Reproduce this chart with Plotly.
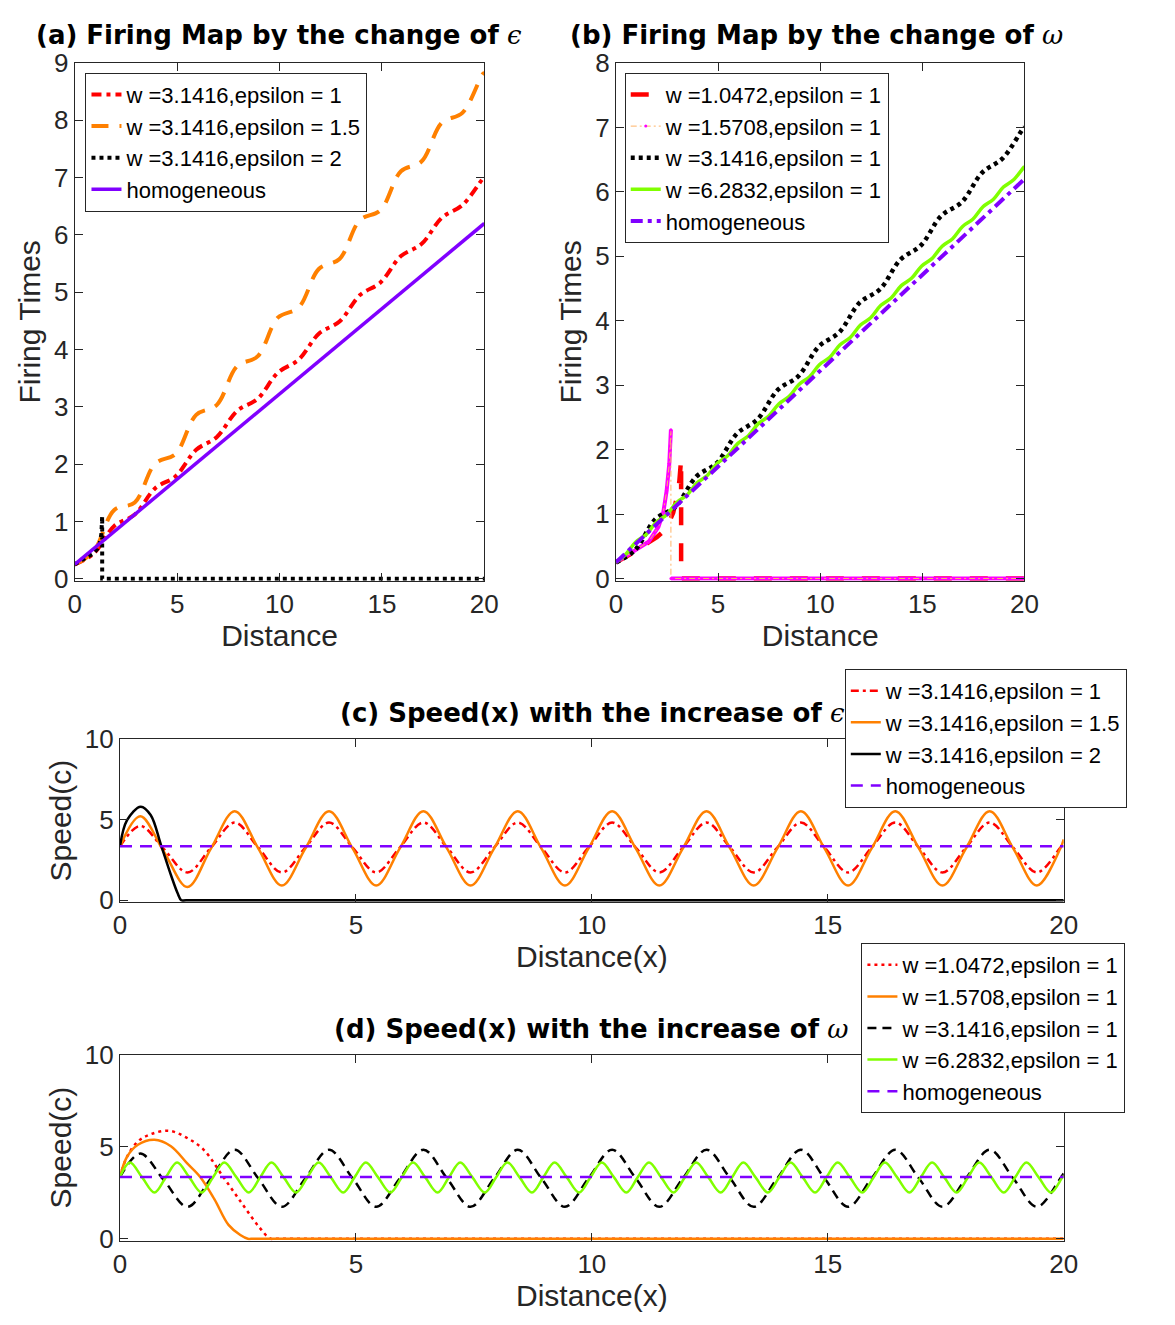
import plotly.graph_objects as go

# ---------------- data ----------------
# firing maps, panel (a) and (b)
firing_x = [0, 0.93, 1.93, 2.93, 3.93, 4.93, 5.93, 6.93, 7.93, 8.93, 9.93, 10.93,
            11.93, 12.93, 13.93, 14.93, 15.93, 16.93, 17.93, 18.93, 19.93, 20]
firing_w314_e1 = [0.25, 0.44, 0.92, 1.12, 1.58, 1.79, 2.25, 2.47, 2.93, 3.14, 3.60, 3.82,
                  4.28, 4.49, 4.95, 5.17, 5.63, 5.84, 6.30, 6.52, 6.98, 7.00]
firing_w314_e15 = [0.25, 0.48, 1.20, 1.33, 2.01, 2.18, 2.86, 3.03, 3.71, 3.88, 4.56, 4.73,
                   5.41, 5.58, 6.26, 6.43, 7.11, 7.28, 7.96, 8.13, 8.81, 8.82]
firing_e2_x = [0, 0.3, 0.6, 0.9, 1.1, 1.22, 1.3, 1.34, 1.34, 20]
firing_e2_y = [0.25, 0.31, 0.37, 0.44, 0.52, 0.62, 0.78, 1.09, 0, 0]
homog_x = [0, 20]
homog_firing = [0.25, 6.2]
firing_w105_x = [0, 0.5, 1.0, 1.6, 2.0, 2.32, 2.6, 2.8, 2.96, 3.1, 3.19, 3.19, 20]
firing_w105_y = [0.25, 0.34, 0.43, 0.56, 0.64, 0.73, 0.87, 1.02, 1.23, 1.5, 1.85, 0, 0]
firing_w157_x = [0, 0.5, 1.12, 1.6, 2.08, 2.32, 2.48, 2.61, 2.69, 2.69, 20]
firing_w157_y = [0.25, 0.35, 0.47, 0.57, 0.80, 1.03, 1.36, 1.78, 2.31, 0, 0]
firing_w628_x = [0, 0.47, 0.97, 1.47, 1.97, 2.47, 2.97, 3.47, 3.97, 4.47, 4.97, 5.47, 5.97,
                 6.47, 6.97, 7.47, 7.97, 8.47, 8.97, 9.47, 9.97, 10.47, 10.97, 11.47, 11.97,
                 12.47, 12.97, 13.47, 13.97, 14.47, 14.97, 15.47, 15.97, 16.47, 16.97,
                 17.47, 17.97, 18.47, 18.97, 19.47, 19.97, 20]
firing_w628_y = [0.25, 0.374, 0.567, 0.680, 0.873, 0.986, 1.179, 1.292, 1.485, 1.598, 1.791,
                 1.904, 2.097, 2.210, 2.403, 2.516, 2.709, 2.822, 3.015, 3.128, 3.321,
                 3.434, 3.627, 3.740, 3.933, 4.046, 4.239, 4.352, 4.545, 4.658, 4.851,
                 4.964, 5.157, 5.270, 5.463, 5.576, 5.769, 5.882, 6.075, 6.188, 6.381, 6.39]

# speed profiles, panel (c) and (d)
speed_x_pi = [0, 0.43, 0.93, 1.43, 1.93, 2.43, 2.93, 3.43, 3.93, 4.43, 4.93, 5.43, 5.93,
              6.43, 6.93, 7.43, 7.93, 8.43, 8.93, 9.43, 9.93, 10.43, 10.93, 11.43, 11.93,
              12.43, 12.93, 13.43, 13.93, 14.43, 14.93, 15.43, 15.93, 16.43, 16.93, 17.43,
              17.93, 18.43, 18.93, 19.43, 19.93, 20]
speed_w314_e1 = [3.35, 4.62, 3.18, 1.73,
                 3.28, 4.83, 3.28, 1.73, 3.28, 4.83, 3.28, 1.73, 3.28, 4.83, 3.28, 1.73,
                 3.28, 4.83, 3.28, 1.73, 3.28, 4.83, 3.28, 1.73, 3.28, 4.83, 3.28, 1.73,
                 3.28, 4.83, 3.28, 1.73, 3.28, 4.83, 3.28, 1.73, 3.28, 4.83, 3.28, 1.73,
                 3.28, 3.55]
speed_w314_e15 = [3.35, 5.22, 3.02, 0.82,
                  3.23, 5.54, 3.23, 0.92, 3.23, 5.54, 3.23, 0.92, 3.23, 5.54, 3.23, 0.92,
                  3.23, 5.54, 3.23, 0.92, 3.23, 5.54, 3.23, 0.92, 3.23, 5.54, 3.23, 0.92,
                  3.23, 5.54, 3.23, 0.92, 3.23, 5.54, 3.23, 0.92, 3.23, 5.54, 3.23, 0.92,
                  3.23, 3.78]
speed_e2_x = [0, 0.15, 0.44, 0.65, 0.87, 1.08, 1.22, 1.3, 1.4, 20]
speed_e2_y = [3.35, 4.98, 5.82, 5.3, 3.43, 1.57, 0.45, 0, 0, 0]
homog_speed = [3.35, 3.35]
speed_w105_x = [0, 0.15, 0.38, 0.66, 1.04, 1.4, 1.77, 2.19, 2.6, 2.95, 3.19, 3.35, 20]
speed_w105_y = [3.35, 4.45, 5.28, 5.68, 5.86, 5.5, 4.84, 3.35, 1.86, 0.63, 0, 0, 0]
speed_w157_x = [0, 0.15, 0.38, 0.73, 1.08, 1.42, 1.7, 2.0, 2.3, 2.55, 2.71, 2.85, 20]
speed_w157_y = [3.35, 4.45, 5.1, 5.37, 5.02, 4.1, 3.35, 2.15, 0.75, 0.2, 0, 0, 0]
speed_x_2pi = [0,
               0.21, 0.47, 0.73, 0.97, 1.21, 1.47, 1.73, 1.97, 2.21, 2.47, 2.73, 2.97,
               3.21, 3.47, 3.73, 3.97, 4.21, 4.47, 4.73, 4.97, 5.21, 5.47, 5.73, 5.97,
               6.21, 6.47, 6.73, 6.97, 7.21, 7.47, 7.73, 7.97, 8.21, 8.47, 8.73, 8.97,
               9.21, 9.47, 9.73, 9.97, 10.21, 10.47, 10.73, 10.97, 11.21, 11.47, 11.73, 11.97,
               12.21, 12.47, 12.73, 12.97, 13.21, 13.47, 13.73, 13.97, 14.21, 14.47, 14.73, 14.97,
               15.21, 15.47, 15.73, 15.97, 16.21, 16.47, 16.73, 16.97, 17.21, 17.47, 17.73, 17.97,
               18.21, 18.47, 18.73, 18.97, 19.21, 19.47, 19.73, 19.97,
               20]
speed_w628_e1 = [3.35,
                 4.14, 3.33, 2.51, 3.33, 4.14, 3.33, 2.51, 3.33, 4.14, 3.33, 2.51, 3.33,
                 4.14, 3.33, 2.51, 3.33, 4.14, 3.33, 2.51, 3.33, 4.14, 3.33, 2.51, 3.33,
                 4.14, 3.33, 2.51, 3.33, 4.14, 3.33, 2.51, 3.33, 4.14, 3.33, 2.51, 3.33,
                 4.14, 3.33, 2.51, 3.33, 4.14, 3.33, 2.51, 3.33, 4.14, 3.33, 2.51, 3.33,
                 4.14, 3.33, 2.51, 3.33, 4.14, 3.33, 2.51, 3.33, 4.14, 3.33, 2.51, 3.33,
                 4.14, 3.33, 2.51, 3.33, 4.14, 3.33, 2.51, 3.33, 4.14, 3.33, 2.51, 3.33,
                 4.14, 3.33, 2.51, 3.33, 4.14, 3.33, 2.51, 3.33,
                 3.40]

x_ticks = [0, 5, 10, 15, 20]

# ---------------- styling ----------------
FONT = "Liberation Sans, Arial, Helvetica, sans-serif"
TFONT = "DejaVu Sans, Liberation Sans, sans-serif"
AX = '#262626'
RED = '#FF0000'
ORANGE = '#FF8000'
PURPLE = '#8000FF'
GREEN = '#80FF00'
MAGENTA = '#FF00FF'
PEACH = '#FFB366'
BLACK = '#000000'

fig = go.Figure()


def add(x, y, axes, leg, name, color, width, dash='solid', shape='linear',
        showlegend=True, mode='lines', marker=None):
    xa, ya = axes
    kw = dict(x=x, y=y, xaxis=xa, yaxis=ya, name=name, mode=mode,
              legend=leg, showlegend=showlegend,
              line=dict(color=color, width=width, dash=dash, shape=shape))
    if marker is not None:
        kw['marker'] = marker
    fig.add_trace(go.Scatter(**kw))


A = ('x', 'y')
B = ('x2', 'y2')
C = ('x3', 'y3')
D = ('x4', 'y4')

# (a)
add(firing_x, firing_w314_e1, A, 'legend', 'w =3.1416,epsilon = 1', RED, 4,
    dash='10px,5px,4px,5px', shape='spline')
add(firing_x, firing_w314_e15, A, 'legend', 'w =3.1416,epsilon = 1.5', ORANGE, 4,
    dash='17px,11px', shape='spline')
add(firing_e2_x, firing_e2_y, A, 'legend', 'w =3.1416,epsilon = 2', BLACK, 4,
    dash='4px,4px')
add(homog_x, homog_firing, A, 'legend', 'homogeneous', PURPLE, 3.5)

# (b)
add(firing_w105_x, firing_w105_y, B, 'legend2', 'w =1.0472,epsilon = 1', RED, 4.5,
    dash='18px,18px')
add(firing_w157_x[:9] + [None] + firing_w157_x[9:], firing_w157_y[:9] + [None] + firing_w157_y[9:],
    B, 'legend2', 'w =1.5708 overlay', MAGENTA, 4, showlegend=False)
add(firing_w157_x, firing_w157_y, B, 'legend2', 'w =1.5708,epsilon = 1', PEACH, 1,
    dash='6px,3px,2px,3px', mode='lines+markers',
    marker=dict(color=MAGENTA, size=3))
add(firing_x, firing_w314_e1, B, 'legend2', 'w =3.1416,epsilon = 1', BLACK, 4.5,
    dash='4px,4px', shape='spline')
add(firing_w628_x, firing_w628_y, B, 'legend2', 'w =6.2832,epsilon = 1', GREEN, 3.5,
    shape='spline')
add(homog_x, homog_firing, B, 'legend2', 'homogeneous', PURPLE, 4,
    dash='12px,5px,4px,5px')

# (c)
add(speed_x_pi, speed_w314_e1, C, 'legend3', 'w =3.1416,epsilon = 1', RED, 2.5,
    dash='8px,4px,3px,4px', shape='spline')
add(speed_x_pi, speed_w314_e15, C, 'legend3', 'w =3.1416,epsilon = 1.5', ORANGE, 2.5,
    shape='spline')
add(speed_e2_x, speed_e2_y, C, 'legend3', 'w =3.1416,epsilon = 2', BLACK, 2.5,
    shape='spline')
add(homog_x, homog_speed, C, 'legend3', 'homogeneous', PURPLE, 2.5, dash='12px,8px')

# (d)
add(speed_w105_x, speed_w105_y, D, 'legend4', 'w =1.0472,epsilon = 1', RED, 2.5,
    dash='3px,4px', shape='spline')
add(speed_w157_x, speed_w157_y, D, 'legend4', 'w =1.5708,epsilon = 1', ORANGE, 2.5,
    shape='spline')
add(speed_x_pi, speed_w314_e1, D, 'legend4', 'w =3.1416,epsilon = 1', BLACK, 2.5,
    dash='9px,6px', shape='spline')
add(speed_x_2pi, speed_w628_e1, D, 'legend4', 'w =6.2832,epsilon = 1', GREEN, 2.5,
    shape='spline')
add(homog_x, homog_speed, D, 'legend4', 'homogeneous', PURPLE, 2.5, dash='12px,8px')


def axis(domain, anchor, rng, tickvals, title, standoff):
    return dict(domain=domain, anchor=anchor, range=rng, tickvals=tickvals,
                showline=True, linecolor=AX, linewidth=1, mirror='ticks',
                ticks='inside', ticklen=8, tickwidth=1, tickcolor=AX,
                showgrid=False, zeroline=False, fixedrange=True,
                tickfont=dict(family=FONT, size=26, color=AX),
                title=dict(text=title, font=dict(family=FONT, size=30, color=AX),
                           standoff=standoff))


def legend(x, y):
    return dict(x=x, y=y, xanchor='left', yanchor='top', bgcolor='white',
                bordercolor=AX, borderwidth=1, tracegroupgap=0,
                font=dict(family=FONT, size=22, color='black'))


top_dom = [0.5638, 0.9630]
fig.update_layout(
    width=1175, height=1325, margin=dict(l=0, r=0, t=0, b=0),
    paper_bgcolor='white', plot_bgcolor='white',
    xaxis=axis([0.0587, 0.4136], 'y', [0, 20], x_ticks, 'Distance', 4),
    yaxis=axis(top_dom, 'x', [-0.035, 9], list(range(10)), 'Firing Times', 4),
    xaxis2=axis([0.5277, 0.8817], 'y2', [0, 20], x_ticks, 'Distance', 4),
    yaxis2=axis(top_dom, 'x2', [-0.035, 8], list(range(9)), 'Firing Times', 4),
    xaxis3=axis([0.0979, 0.9157], 'y3', [0, 20], x_ticks, 'Distance(x)', 4),
    yaxis3=axis([0.3162, 0.4415], 'x3', [-0.1, 10], [0, 5, 10], 'Speed(c)', 4),
    xaxis4=axis([0.0979, 0.9157], 'y4', [0, 20], x_ticks, 'Distance(x)', 4),
    yaxis4=axis([0.0551, 0.1985], 'x4', [-0.1, 10], [0, 5, 10], 'Speed(c)', 4),
    legend=legend(0.068, 0.9555),
    legend2=legend(0.5353, 0.9555),
    legend3=legend(0.726, 0.4958),
    legend4=legend(0.7404, 0.2845),
)

SYM = '<span style="font-family:DejaVu Serif;font-weight:normal"><i>{}</i></span>'
titles = [
    ("<b>(a) Firing Map by the change of</b> " + SYM.format('ϵ'), 0.2357, 0.9842),
    ("<b>(b) Firing Map by the change of</b> " + SYM.format('ω'), 0.7017, 0.9842),
    ("<b>(c) Speed(x) with the increase of</b> " + SYM.format('ϵ'), 0.5072, 0.4619),
    ("<b>(d) Speed(x) with the increase of</b> " + SYM.format('ω'), 0.5064, 0.2181),
]
for text, x, y in titles:
    fig.add_annotation(text=text, x=x, y=y, xref='paper', yref='paper',
                       xanchor='center', yanchor='middle', showarrow=False,
                       font=dict(family=TFONT, size=26, color='black'))

fig.write_html("out.html",
               post_script="document.body.style.margin='0';"
                           "document.documentElement.style.overflow='hidden';")
